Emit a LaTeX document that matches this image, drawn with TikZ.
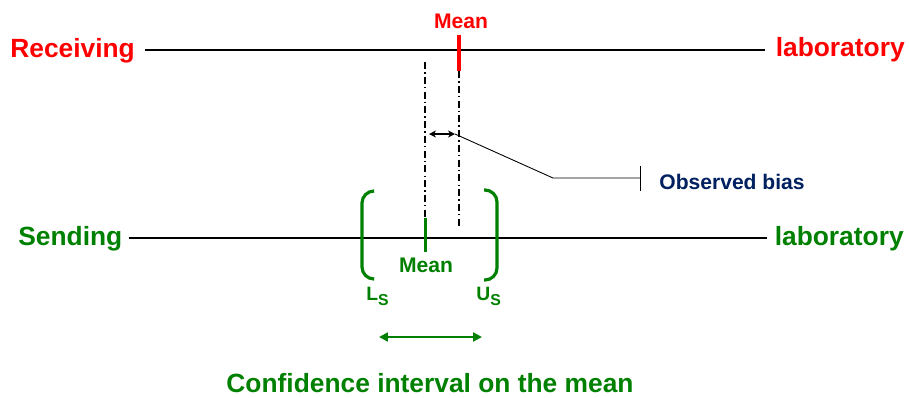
\documentclass[tikz,border=0pt]{standalone}
\usepackage{fontspec}
\setmainfont{Liberation Sans}
\usetikzlibrary{arrows.meta,positioning}
\definecolor{recvred}{RGB}{255,0,0}
\definecolor{sendgreen}{RGB}{0,128,0}
\definecolor{biasblue}{RGB}{0,32,96}

\begin{document}
\begin{tikzpicture}[x=0.02cm,y=-0.02cm,
    word/.style={font=\bfseries\fontsize{15}{18}\selectfont,inner sep=0pt},
    small/.style={font=\bfseries\fontsize{12}{14}\selectfont,inner sep=0pt},
    limit/.style={font=\bfseries\fontsize{11}{12}\selectfont,inner sep=0pt},
    rule/.style={line width=1.3pt},
    tick/.style={line width=1.8pt},
    dashdot/.style={line width=0.6pt,dash pattern=on 4pt off 1.8pt on 0.8pt off 1.8pt},
    bracket/.style={sendgreen,line width=1.8pt,rounded corners=0.24cm}]
    \useasboundingbox (0,0) rectangle (909,397);

    % receiving laboratory
    \node[word,recvred,anchor=base west] (recv) at (10,57) {Receiving};
    \node[word,recvred,anchor=base east] (labR) at (905,56) {laboratory};
    \draw[rule,shorten <=5.7pt,shorten >=5.7pt] (recv.east) -- (recv.east -| labR.west);
    \node[small,recvred,anchor=base] (rmean) at (461,28) {Mean};
    \coordinate (rmT) at (459,35);
    \coordinate (rmB) at (459,71);
    \draw[tick,recvred] (rmT) -- (rmB);

    % sending laboratory
    \node[word,sendgreen,anchor=base west] (send) at (18,245) {Sending};
    \node[word,sendgreen,anchor=base east] (labS) at (904,245) {laboratory};
    \draw[rule,shorten <=3.4pt,shorten >=4.5pt] (send.east) -- (send.east -| labS.west);
    \coordinate (gmT) at (425.5,218);
    \coordinate (gmB) at (425.5,252);
    \draw[tick,sendgreen] (gmT) -- (gmB);
    \node[small,sendgreen,anchor=base] (gmean) at (426,272) {Mean};

    % dash-dot guides
    \coordinate (dlA) at (425,62);
    \coordinate (dlB) at (459,228);
    \draw[dashdot] (dlA) -- (dlA |- gmT);
    \draw[dashdot] (rmB) -- (dlB);

    % observed bias
    \coordinate (bA) at (429,134);
    \coordinate (bB) at (455,134);
    \coordinate (kink) at (553,178);
    \coordinate (barT) at (640,166);
    \coordinate (barB) at (640,191);
    \draw[line width=0.9pt,{Stealth[length=4pt,width=4pt]}-{Stealth[length=4pt,width=4pt]}] (bA) -- (bB);
    \draw[line width=0.5pt] (bB) -- (kink) -- (kink -| barT);
    \draw[line width=0.5pt] (barT) -- (barB);
    \node[small,biasblue,anchor=base west] (bias) at (659,189) {Observed bias};

    % confidence interval
    \draw[bracket] (373,191) -- (362,191) -- (362,279) -- (373,279);
    \draw[bracket] (484,190) -- (497,190) -- (497,280) -- (484,280);
    \node[limit,sendgreen,anchor=base west] (ls) at (366,300)
        {L\raisebox{-3.4pt}{\fontsize{9}{10}\selectfont S}};
    \node[limit,sendgreen,anchor=base west] (us) at (476,300)
        {U\raisebox{-3.4pt}{\fontsize{9}{10}\selectfont S}};
    \coordinate (ciL) at (379,337);
    \coordinate (ciR) at (482,337);
    \draw[sendgreen,line width=1.2pt,{Triangle[length=5pt,width=5pt]}-{Triangle[length=5pt,width=5pt]}] (ciL) -- (ciR);
    \node[word,sendgreen,anchor=base] (conf) at (430,392) {Confidence interval on the mean};
\end{tikzpicture}
\end{document}
